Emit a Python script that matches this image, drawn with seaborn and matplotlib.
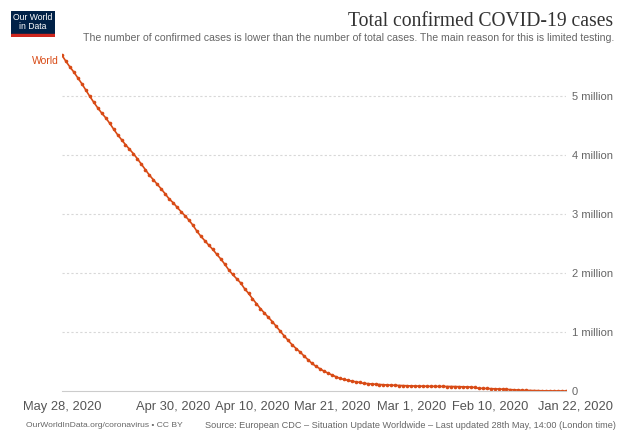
import matplotlib
matplotlib.use("Agg")
import matplotlib.pyplot as plt
import matplotlib.transforms as mtransforms
from matplotlib.patches import Rectangle
import seaborn as sns
import pandas as pd

# ---- data (world cumulative confirmed cases, daily Jan 22 - May 28 2020) ----
start_date = "2020-01-22"
end_date = "2020-05-28"
world_cases = [
    314, 557, 655, 941, 1434, 2118, 2927, 5578, 6166, 8234,
    9927, 12038, 16787, 19887, 23898, 27643, 30802, 34395, 37129, 40159,
    42762, 44802, 45221, 60368, 66885, 69030, 71224, 73258, 75136, 75639,
    76197, 76819, 78572, 78958, 79561, 80406, 81388, 82746, 84112, 86011,
    88369, 90306, 92840, 95120, 97886, 101801, 105847, 109821, 113590, 118620,
    125875, 128352, 145205, 156101, 167454, 181574, 197102, 214821, 242570, 272208,
    304507, 336953, 378231, 418045, 467653, 529591, 593291, 660706, 720117, 782365,
    857487, 932605, 1013466, 1095917, 1176060, 1249754, 1321481, 1396476, 1479804, 1565278,
    1657526, 1735650, 1834721, 1904838, 1976191, 2056054, 2152437, 2240190, 2317758, 2401378,
    2472259, 2549294, 2623960, 2708885, 2811193, 2896746, 2971475, 3041764, 3116398, 3193886,
    3256846, 3343777, 3427584, 3506729, 3583055, 3662691, 3755341, 3845718, 3938064, 4024009,
    4101699, 4177502, 4261747, 4347018, 4442163, 4542347, 4634068, 4713620, 4801943, 4897492,
    4996472, 5102424, 5210817, 5310362, 5407613, 5495061, 5589626, 5691790,
]
x_ticks = ["2020-01-22", "2020-02-10", "2020-03-01", "2020-03-21",
           "2020-04-10", "2020-04-30", "2020-05-28"]
x_tick_labels = ["Jan 22, 2020", "Feb 10, 2020", "Mar 1, 2020", "Mar 21, 2020",
                 "Apr 10, 2020", "Apr 30, 2020", "May 28, 2020"]
y_ticks = [0, 1e6, 2e6, 3e6, 4e6, 5e6]
y_tick_labels = ["0", "1 million", "2 million", "3 million", "4 million", "5 million"]
series_name = "World"

title = "Total confirmed COVID-19 cases"
subtitle = ("The number of confirmed cases is lower than the number of total cases. "
            "The main reason for this is limited testing.")
source = ("Source: European CDC \u2013 Situation Update Worldwide \u2013 "
          "Last updated 28th May, 14:00 (London time)")
credit = "OurWorldInData.org/coronavirus \u2022 CC BY"

df = pd.DataFrame({
    "date": pd.date_range(start_date, end_date, freq="D"),
    "cases": world_cases,
})

# ---- figure ----
sns.set_theme(style="white")
plt.rcParams["font.family"] = ["Liberation Sans", "DejaVu Sans"]

W, H = 624, 440
fig = plt.figure(figsize=(W / 100, H / 100), dpi=100)
ax = fig.add_axes([62 / W, (H - 391) / H, 504 / W, 342 / H])

color = "#d84a15"
gray = "#666666"
sns.lineplot(data=df, x="date", y="cases", ax=ax, color=color, linewidth=1.2,
             marker="o", markersize=2.6, markeredgewidth=0, legend=False)

ax.set_xlim(pd.Timestamp(end_date), pd.Timestamp(start_date))
ax.set_ylim(0, 5.8e6)

ax.yaxis.tick_right()
ax.set_yticks(y_ticks)
ax.set_yticklabels(y_tick_labels, fontsize=8, color=gray)
ax.tick_params(axis="y", length=0, pad=4)
for lbl in ax.get_yticklabels():
    lbl.set_horizontalalignment("left")

ax.set_xticks(pd.to_datetime(x_ticks))
ax.set_xticklabels(x_tick_labels, fontsize=9.3, color="#555555")
ax.tick_params(axis="x", length=4, width=0.8, color="#cccccc", pad=3, direction="out")
# first label (Jan 22) shifted toward the figure edge, as in the reference
first = ax.get_xticklabels()[0]
first.set_transform(first.get_transform() +
                    mtransforms.ScaledTranslation(9 / 100, 0, fig.dpi_scale_trans))

for y in y_ticks[1:]:
    ax.axhline(y, color="#d8d8d8", linewidth=0.8, linestyle=(0, (2, 2)), zorder=0)

for s in ["top", "left", "right"]:
    ax.spines[s].set_visible(False)
ax.spines["bottom"].set_color("#cccccc")
ax.spines["bottom"].set_linewidth(0.8)
ax.set_xlabel("")
ax.set_ylabel("")

# series label
ax.annotate(series_name, xy=(df["date"].iloc[-1], df["cases"].iloc[-1]),
            xytext=(-2, -4), textcoords="offset points", ha="right", va="center",
            fontsize=7.5, color=color)

# ---- titles ----
fig.text(613 / W, 1 - 21 / H, title, ha="right", va="center", fontsize=14.1,
         color="#333333", family=["Liberation Serif", "DejaVu Serif"])
fig.text(614 / W, 1 - 38 / H, subtitle, ha="right", va="center", fontsize=7.6,
         color=gray)

# ---- logo ----
logo_ax = fig.add_axes([11 / W, 1 - 37 / H, 44 / W, 26 / H])
logo_ax.set_xlim(0, 1)
logo_ax.set_ylim(0, 1)
logo_ax.axis("off")
logo_ax.add_patch(Rectangle((0, 0.1), 1, 0.9, color="#002147"))
logo_ax.add_patch(Rectangle((0, 0), 1, 0.1, color="#ce261e"))
logo_ax.text(0.5, 0.56, "Our World\nin Data", ha="center", va="center",
             fontsize=6.2, color="white", linespacing=1.0)

# ---- footer ----
fig.text(616 / W, 1 - 425 / H, source, ha="right", va="center", fontsize=6.6,
         color=gray)
fig.text(26 / W, 1 - 425 / H, credit, ha="left", va="center", fontsize=6.1,
         color=gray)

fig.savefig("out.png", dpi=100)
